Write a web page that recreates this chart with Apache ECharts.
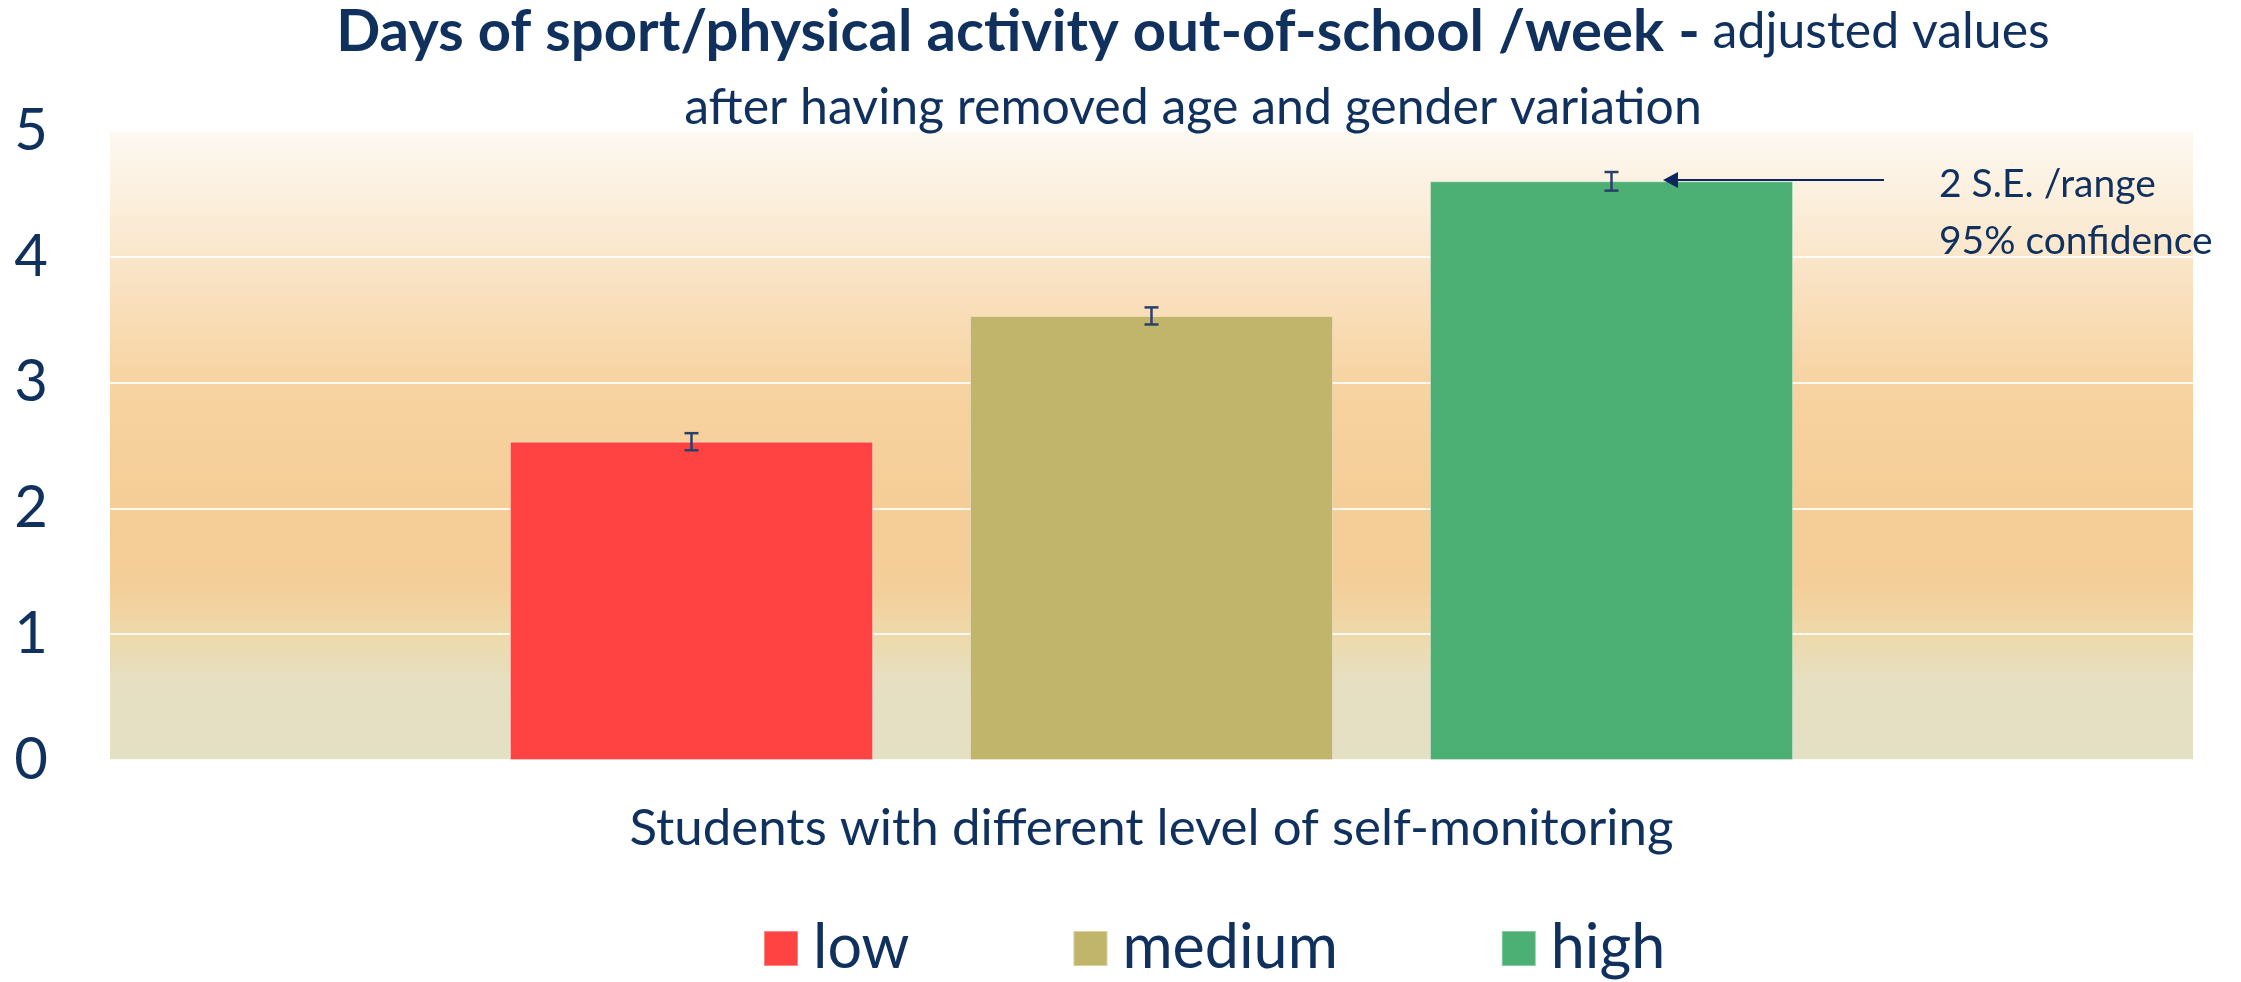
<!DOCTYPE html>
<html>
<head>
<meta charset="utf-8">
<script src="https://cdn.jsdelivr.net/npm/echarts@6/dist/echarts.min.js"></script>
<style>
html,body{margin:0;padding:0;background:#fff;}
#chart{width:2241px;height:982px;}
</style>
</head>
<body>
<div id="chart"></div>
<script>
// ---- data ----
const categories = ['all students'];
const seriesNames = ['low', 'medium', 'high'];
const means = [2.53, 3.53, 4.60];
const twoSE = [0.068, 0.068, 0.074];
const yTicks = [0, 1, 2, 3, 4, 5];
const titleBold = 'Days of sport/physical activity out-of-school /week -';
const titleNormal = 'adjusted values';
const subtitle = 'after having removed age and gender variation';
const xName = 'Students with different level of self-monitoring';
const noteLines = ['2 S.E. /range', '95% confidence'];

// ---- style ----
const NAVY = '#10305e';
const FONT = 'Lato, "Open Sans", sans-serif';
const colors = ['#ff4242', '#c1b56b', '#4caf73'];
const BAR_FRAC = 0.1743;  // bar width as fraction of the category band
const BAR_GAP = 0.267;    // gap between bars relative to bar width

const chart = echarts.init(document.getElementById('chart'));

const barSeries = seriesNames.map((name, i) => ({
  name: name,
  type: 'bar',
  data: [means[i]],
  barWidth: (BAR_FRAC * 100) + '%',
  barGap: (BAR_GAP * 100) + '%',
  itemStyle: { color: colors[i], borderColor: 'rgba(255,255,255,0.35)', borderWidth: 1 },
  emphasis: { disabled: true },
  z: 2
}));

const errData = means.map((m, i) => [0, m, twoSE[i], i]);

const errSeries = {
  type: 'custom',
  name: 'err',
  data: errData,
  z: 5,
  silent: true,
  renderItem: function (params, api) {
    const v = api.value(1), e = api.value(2), slot = api.value(3);
    const band = api.size([1, 0])[0];
    const bw = band * BAR_FRAC;
    const step = bw * (1 + BAR_GAP);
    const c = api.coord([0, v]);
    const x = c[0] + (slot - 1) * step;
    const yt = api.coord([0, v + e])[1];
    const yb = api.coord([0, v - e])[1];
    const cap = 7;
    const st = { stroke: '#2b3f6c', lineWidth: 2.5 };
    return {
      type: 'group',
      children: [
        { type: 'line', shape: { x1: x, y1: yt, x2: x, y2: yb }, style: st },
        { type: 'line', shape: { x1: x - cap, y1: yt, x2: x + cap, y2: yt }, style: st },
        { type: 'line', shape: { x1: x - cap, y1: yb, x2: x + cap, y2: yb }, style: st }
      ]
    };
  }
};

const option = {
  animation: false,
  backgroundColor: '#ffffff',
  textStyle: { fontFamily: FONT },
  title: {
    left: 1193,
    top: -6,
    padding: 0,
    textAlign: 'center',
    text: '{b|' + titleBold + '}{n| ' + titleNormal + '}\n{n|' + subtitle + '}',
    textStyle: {
      fontWeight: 'normal',
      rich: {
        b: { fontFamily: FONT, fontWeight: 'bold', fontSize: 58, color: NAVY, lineHeight: 76 },
        n: { fontFamily: FONT, fontWeight: 'normal', fontSize: 50, color: NAVY, lineHeight: 76 }
      }
    }
  },
  legend: {
    data: seriesNames,
    left: 763,
    top: 918,
    padding: 0,
    icon: 'rect',
    itemWidth: 34,
    itemHeight: 35,
    itemGap: 163,
    selectedMode: false,
    textStyle: { fontFamily: FONT, fontSize: 61, color: NAVY, padding: [0, 0, 0, 10] }
  },
  grid: {
    left: 110,
    right: 48,
    top: 131,
    bottom: 222,
    show: true,
    borderWidth: 0,
    outerBoundsMode: 'none',
    backgroundColor: {
      type: 'linear', x: 0, y: 0, x2: 0, y2: 1,
      colorStops: [
        { offset: 0, color: '#fdf9f2' },
        { offset: 0.2, color: '#fae6ca' },
        { offset: 0.4, color: '#f7d3a1' },
        { offset: 0.6, color: '#f5cd96' },
        { offset: 0.72, color: '#f4ce98' },
        { offset: 0.8, color: '#eed9aa' },
        { offset: 0.87, color: '#e6dfc1' },
        { offset: 1, color: '#e4e0c4' }
      ]
    }
  },
  xAxis: {
    type: 'category',
    data: categories,
    axisLine: { show: false },
    axisTick: { show: false },
    axisLabel: { show: false },
    name: xName,
    nameLocation: 'middle',
    nameGap: 43,
    nameTextStyle: { fontFamily: FONT, fontSize: 51, color: NAVY }
  },
  yAxis: {
    type: 'value',
    min: yTicks[0],
    max: yTicks[yTicks.length - 1],
    interval: 1,
    axisLine: { show: false },
    axisTick: { show: false },
    axisLabel: { fontFamily: FONT, fontSize: 58, color: NAVY, margin: 62 },
    splitLine: { lineStyle: { color: 'rgba(255,255,255,0.85)', width: 2 } }
  },
  graphic: [
    { type: 'line', shape: { x1: 1884, y1: 180, x2: 1672, y2: 180 }, style: { stroke: '#0d2660', lineWidth: 2 }, z: 10 },
    { type: 'polygon', shape: { points: [[1663, 180], [1678, 172], [1678, 188]] }, style: { fill: '#0d2660' }, z: 10 },
    {
      type: 'text', left: 1939, top: 156, z: 10,
      style: { text: noteLines.join('\n'), font: '39px ' + FONT, fill: NAVY, lineHeight: 57 }
    }
  ],
  series: barSeries.concat([errSeries])
};

chart.setOption(option);
</script>
</body>
</html>
